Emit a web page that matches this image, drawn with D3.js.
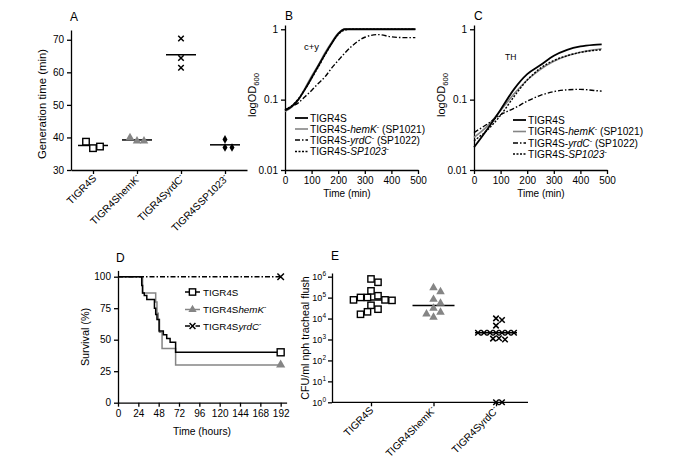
<!DOCTYPE html>
<html>
<head>
<meta charset="utf-8">
<script src="https://cdn.jsdelivr.net/npm/d3@7"></script>
<style>
  body { margin: 0; background: #fff; }
  svg { font-family: "Liberation Sans", Arial, sans-serif; }
  .axis path, .axis line { stroke: #000; stroke-width: 1.3; }
  .axis text { font-size: 10px; fill: #000; font-family: "Liberation Sans", Arial, sans-serif; }
</style>
</head>
<body>
<svg id="fig" width="685" height="463"></svg>
<script>
// ---- data: panel A (generation time, min)
const aCats = ["TIGR4S", "TIGR4ShemK", "TIGR4SyrdC", "TIGR4SSP1023"];
const genTIGR4S = [36.7, 37.2, 38.7];
const genHemK = [38.9, 38.9, 39.9];
const genYrdC = [70.4, 64.4, 61.4];
const genSP1023 = [36.9, 36.9, 39.4];

// ---- data: panels B and C (OD600 growth curves)
const tB = [0, 25, 50, 75, 100, 125, 150, 175, 200, 225, 250, 300, 350, 400, 450, 490];
const bTIGR4S = [0.07, 0.08, 0.1, 0.14, 0.205, 0.3, 0.44, 0.63, 0.86, 1.0, 1.0, 1.0, 1.0, 1.0, 1.0, 1.0];
const bHemK   = [0.068, 0.078, 0.1, 0.145, 0.215, 0.31, 0.46, 0.65, 0.88, 1.01, 1.01, 1.01, 1.01, 1.01, 1.01, 1.01];
const bYrdC   = [0.072, 0.08, 0.09, 0.11, 0.135, 0.17, 0.21, 0.28, 0.36, 0.46, 0.57, 0.77, 0.84, 0.78, 0.76, 0.76];
const bSP1023 = [0.072, 0.082, 0.102, 0.14, 0.2, 0.29, 0.43, 0.62, 0.84, 0.98, 1.0, 1.0, 1.0, 1.0, 1.0, 1.0];

const tC = [0, 50, 100, 150, 200, 250, 300, 350, 400, 450, 480];
const cTIGR4S = [0.021, 0.038, 0.072, 0.14, 0.23, 0.31, 0.42, 0.51, 0.57, 0.6, 0.61];
const cHemK   = [0.029, 0.042, 0.07, 0.12, 0.19, 0.27, 0.35, 0.42, 0.47, 0.51, 0.53];
const cYrdC   = [0.034, 0.045, 0.061, 0.075, 0.095, 0.115, 0.13, 0.138, 0.14, 0.135, 0.132];
const cSP1023 = [0.026, 0.037, 0.06, 0.11, 0.19, 0.28, 0.36, 0.42, 0.47, 0.5, 0.51];

// ---- data: panel D (survival, %)
const dTimesTIGR4S = [0, 28, 29, 31, 34, 43, 44.5, 46, 48.5, 53.5, 57.5, 61.5, 68, 192];
const dSurvTIGR4S  = [100, 93, 87, 85, 82, 75, 70, 66, 57, 54, 51, 48, 40, 40];
const dTimesHemK = [0, 29, 44.5, 46, 47.5, 49, 52, 68, 192];
const dSurvHemK  = [100, 87, 80, 71, 66, 56, 43, 30, 30];
const dTimesYrdC = [0, 192];
const dSurvYrdC  = [100, 100];

// ---- data: panel E (CFU/ml nph tracheal flush)
const eCats = ["TIGR4S", "TIGR4ShemK", "TIGR4SyrdC"];
const cfuTIGR4S = [780000, 540000, 210000, 123000, 102000, 102000, 78000, 78000, 74000, 43000, 28000, 21000, 16000];
const cfuHemK = [295000, 190000, 83000, 54000, 31000, 20000, 16600, 11500];
const cfuYrdC = [10200, 8500, 4600, 2100, 2100, 2100, 2100, 2100, 2100, 2100, 1150, 1100, 1000, 1, 1];

const GRAY = "#858585";
const svg = d3.select("#fig");

// text with italic / superscript / subscript pieces
function rich(text, parts) {
  let off = 0;
  parts.forEach(([t, st]) => {
    const ts = text.append("tspan").text(t);
    st = st || "";
    if (st.includes("i")) ts.attr("font-style", "italic");
    let target = 0;
    if (st.includes("s")) { target = -4; ts.attr("font-size", "0.7em"); }
    if (st.includes("b")) { target = 3; ts.attr("font-size", "0.7em"); }
    if (target !== off) { ts.attr("dy", target - off); off = target; }
  });
}

function marker(g, shape, x, y, s) {
  if (shape === "square") {
    g.append("rect").attr("x", x - s / 2).attr("y", y - s / 2).attr("width", s).attr("height", s)
      .attr("fill", "#fff").attr("stroke", "#000").attr("stroke-width", 1.4);
  } else if (shape === "tri") {
    g.append("path").attr("d", d3.symbol(d3.symbolTriangle, s * s * 0.75)())
      .attr("transform", `translate(${x},${y})`).attr("fill", GRAY);
  } else if (shape === "x") {
    const h = s / 2;
    g.append("path").attr("d", `M${x - h},${y - h}L${x + h},${y + h}M${x - h},${y + h}L${x + h},${y - h}`)
      .attr("stroke", "#000").attr("stroke-width", 1.5);
  } else if (shape === "diamond") {
    g.append("path").attr("d", d3.symbol(d3.symbolDiamond, s * s * 0.6)())
      .attr("transform", `translate(${x},${y})`).attr("fill", "#000");
  }
}

// spread points sideways so markers do not overlap
function dodge(vals, y, r, step) {
  const placed = [];
  return vals.map(v => {
    const py = y(v);
    for (let k = 0; ; k++) {
      const off = k === 0 ? 0 : (k % 2 ? 1 : -1) * Math.ceil(k / 2) * step;
      if (placed.every(p => (p.dx - off) ** 2 + (p.y - py) ** 2 >= r * r - 0.01)) {
        placed.push({dx: off, y: py});
        return {v: v, dx: off, y: py};
      }
    }
  });
}

function title(x, y, t) {
  svg.append("text").attr("x", x).attr("y", y).attr("font-size", 12).text(t);
}

function yTitle(x, y, parts, size) {
  const t = svg.append("text").attr("transform", `translate(${x},${y}) rotate(-90)`)
    .attr("text-anchor", "middle").attr("font-size", size);
  rich(t, parts);
}

// ================= Panel A
const ax = d3.scalePoint().domain(aCats).range([71, 247]).padding(0.5);
const ay = d3.scaleLinear().domain([30, 73]).range([170, 30]);
const gA = svg.append("g");
gA.append("g").attr("class", "axis").attr("transform", "translate(71,0)")
  .call(d3.axisLeft(ay).tickValues([30, 40, 50, 60, 70]).tickSize(4).tickSizeOuter(0));
gA.append("g").attr("class", "axis").attr("transform", "translate(0,170)")
  .call(d3.axisBottom(ax).tickSize(4).tickSizeOuter(0).tickFormat(""));
const aLabels = [[["TIGR4S"]], [["TIGR4ShemK"], ["-", "s"]], [["TIGR4SyrdC"], ["-", "s"]], [["TIGR4SSP1023"], ["-", "s"]]];
aCats.forEach((c, i) => {
  const t = gA.append("text").attr("transform", `translate(${ax(c) + 4},179) rotate(-45)`)
    .attr("text-anchor", "end").attr("font-size", 10.2);
  rich(t, aLabels[i]);
});
const aSeries = [
  {cat: aCats[0], vals: genTIGR4S, shape: "square", size: 6.5},
  {cat: aCats[1], vals: genHemK, shape: "tri", size: 6.5},
  {cat: aCats[2], vals: genYrdC, shape: "x", size: 5.5},
  {cat: aCats[3], vals: genSP1023, shape: "diamond", size: 6}
];
aSeries.forEach(s => {
  const cx = ax(s.cat), m = d3.mean(s.vals);
  gA.append("line").attr("x1", cx - 15).attr("x2", cx + 15).attr("y1", ay(m)).attr("y2", ay(m))
    .attr("stroke", "#000").attr("stroke-width", 1.5);
  dodge(s.vals, ay, 7, 7).forEach(p => marker(gA, s.shape, cx + p.dx, p.y, s.size));
});
title(70, 21, "A");
yTitle(46, 104, [["Generation time (min)"]], 11.4);

// ================= Panels B and C
const legendEntries = [
  {parts: [["TIGR4S"]], color: "#000", dash: null, w: 1.8},
  {parts: [["TIGR4S-"], ["hemK", "i"], ["-", "s"], [" (SP1021)"]], color: GRAY, dash: null, w: 1.6},
  {parts: [["TIGR4S-"], ["yrdC", "i"], ["-", "s"], [" (SP1022)"]], color: "#000", dash: "5,2,1.5,2", w: 1.4},
  {parts: [["TIGR4S-"], ["SP1023", "i"], ["-", "s"]], color: "#000", dash: "2,1.5", w: 1.4}
];

function growth(o) {
  const x = d3.scaleLinear().domain([0, 500]).range([o.x0, o.x1]);
  const y = d3.scaleLog().domain([0.01, 1.15]).range([170, 25]);
  const g = svg.append("g");
  g.append("g").attr("class", "axis").attr("transform", `translate(${o.x0},0)`)
    .call(d3.axisLeft(y).tickValues([0.01, 0.1, 1]).tickFormat(d3.format("~g")).tickSize(4).tickSizeOuter(0));
  g.append("g").attr("class", "axis").attr("transform", "translate(0,170)")
    .call(d3.axisBottom(x).tickValues([0, 100, 200, 300, 400, 500]).tickSize(4).tickSizeOuter(0));
  const line = d3.line().x((d, i) => x(o.times[i])).y(d => y(d)).curve(d3.curveMonotoneX);
  [1, 3, 2, 0].forEach(i => {
    const e = legendEntries[i];
    g.append("path").attr("d", line(o.series[i])).attr("fill", "none").attr("stroke", e.color)
      .attr("stroke-width", e.w).attr("stroke-dasharray", e.dash);
  });
  g.append("text").attr("x", o.noteX).attr("y", o.noteY).attr("font-size", o.noteSize).text(o.note);
  legendEntries.forEach((e, i) => {
    const yy = o.legY[i];
    g.append("line").attr("x1", o.legX).attr("x2", o.legX + 13).attr("y1", yy).attr("y2", yy)
      .attr("stroke", e.color).attr("stroke-width", e.w).attr("stroke-dasharray", e.dash);
    const t = g.append("text").attr("x", o.legX + 15).attr("y", yy + 3.5).attr("font-size", 10.2);
    rich(t, e.parts);
  });
  title(o.x0, 20, o.letter);
  yTitle(o.labX, 95, [["logOD"], ["600", "b"]], 11);
  g.append("text").attr("x", o.timeX).attr("y", 197).attr("text-anchor", "middle")
    .attr("font-size", 10).text("Time (min)");
}

growth({x0: 285, x1: 418, times: tB, series: [bTIGR4S, bHemK, bYrdC, bSP1023],
  note: "c+y", noteX: 304, noteY: 50, noteSize: 9.5, legX: 295, legY: [118, 129, 140, 151.5],
  letter: "B", labX: 256, timeX: 347});
growth({x0: 474, x1: 607, times: tC, series: [cTIGR4S, cHemK, cYrdC, cSP1023],
  note: "TH", noteX: 505, noteY: 60, noteSize: 8.5, legX: 513, legY: [120, 131.5, 143, 154],
  letter: "C", labX: 445, timeX: 541});

// ================= Panel D
const dx = d3.scaleLinear().domain([0, 199]).range([118, 286.6]);
const dy = d3.scaleLinear().domain([0, 105]).range([402.7, 270.4]);
const gD = svg.append("g");
gD.append("g").attr("class", "axis").attr("transform", "translate(118,0)")
  .call(d3.axisLeft(dy).tickValues([0, 25, 50, 75, 100]).tickSize(4).tickSizeOuter(0));
gD.append("g").attr("class", "axis").attr("transform", "translate(0,402.7)")
  .call(d3.axisBottom(dx).tickValues(d3.range(0, 193, 24)).tickSize(4).tickSizeOuter(0));
const survSeries = [
  {times: dTimesHemK, surv: dSurvHemK, color: GRAY, dash: null, shape: "tri", size: 7,
   parts: [["TIGR4S"], ["hemK", "i"], ["-", "s"]]},
  {times: dTimesTIGR4S, surv: dSurvTIGR4S, color: "#000", dash: null, shape: "square", size: 7,
   parts: [["TIGR4S"]]},
  {times: dTimesYrdC, surv: dSurvYrdC, color: "#000", dash: "5,2,1.5,2", shape: "x", size: 6.5,
   parts: [["TIGR4S"], ["yrdC", "i"], ["-", "s"]]}
];
const step = d3.line().curve(d3.curveStepAfter);
survSeries.forEach(s => {
  const pts = s.times.map((t, i) => [dx(t), dy(s.surv[i])]);
  gD.append("path").attr("d", step(pts)).attr("fill", "none").attr("stroke", s.color)
    .attr("stroke-width", 1.5).attr("stroke-dasharray", s.dash);
  const last = pts[pts.length - 1];
  marker(gD, s.shape, last[0], last[1], s.size);
});
[survSeries[1], survSeries[0], survSeries[2]].forEach((s, i) => {
  const yy = [292, 309.5, 326][i];
  gD.append("line").attr("x1", 185).attr("x2", 200).attr("y1", yy).attr("y2", yy)
    .attr("stroke", s.color).attr("stroke-width", 1.5).attr("stroke-dasharray", s.dash);
  marker(gD, s.shape, 192.5, yy, s.size * 0.9);
  const t = gD.append("text").attr("x", 203).attr("y", yy + 3.5).attr("font-size", 9.8);
  rich(t, s.parts);
});
title(116, 262, "D");
yTitle(89, 337, [["Survival (%)"]], 10.8);
gD.append("text").attr("x", 202).attr("y", 435).attr("text-anchor", "middle").attr("font-size", 10.3).text("Time (hours)");

// ================= Panel E
const ex = d3.scalePoint().domain(eCats).range([371, 496]);
const ey = d3.scaleLog().domain([1, 1.5e6]).range([402.3, 273]);
const gE = svg.append("g");
const eyAxis = gE.append("g").attr("class", "axis").attr("transform", "translate(332,0)")
  .call(d3.axisLeft(ey).tickValues(d3.range(0, 7).map(e => Math.pow(10, e))).tickSize(4).tickSizeOuter(0).tickPadding(2));
eyAxis.selectAll(".tick text").each(function(d) {
  const t = d3.select(this).text("").style("font-size", "9px");
  t.append("tspan").text("10");
  t.append("tspan").attr("dy", -4).style("font-size", "6.5px").text(Math.round(Math.log10(d)));
});
const exAxis = gE.append("g").attr("class", "axis").attr("transform", "translate(0,402.3)")
  .call(d3.axisBottom(ex).tickSize(4).tickSizeOuter(0).tickFormat(""));
exAxis.select(".domain").attr("d", "M332,0H528");
const eLabels = [[["TIGR4S"]], [["TIGR4ShemK"], ["-", "s"]], [["TIGR4SyrdC"], ["-", "s"]]];
eCats.forEach((c, i) => {
  const t = gE.append("text").attr("transform", `translate(${ex(c) + 3},411) rotate(-45)`)
    .attr("text-anchor", "end").attr("font-size", 10.2);
  rich(t, eLabels[i]);
});
const eSeries = [
  {cat: eCats[0], vals: cfuTIGR4S, shape: "square", size: 6.3, r: 7, step: 3.5},
  {cat: eCats[1], vals: cfuHemK, shape: "tri", size: 6.5, r: 7, step: 3.5},
  {cat: eCats[2], vals: cfuYrdC, shape: "x", size: 5.5, r: 6, step: 3}
];
eSeries.forEach(s => {
  const cx = ex(s.cat), m = d3.median(s.vals);
  gE.append("line").attr("x1", cx - 21).attr("x2", cx + 21).attr("y1", ey(m)).attr("y2", ey(m))
    .attr("stroke", "#000").attr("stroke-width", 1.5);
  dodge(s.vals, ey, s.r, s.step).forEach(p => marker(gE, s.shape, cx + p.dx, p.y, s.size));
});
title(331, 260, "E");
yTitle(309, 338, [["CFU/ml nph tracheal flush"]], 10.7);
</script>
</body>
</html>
